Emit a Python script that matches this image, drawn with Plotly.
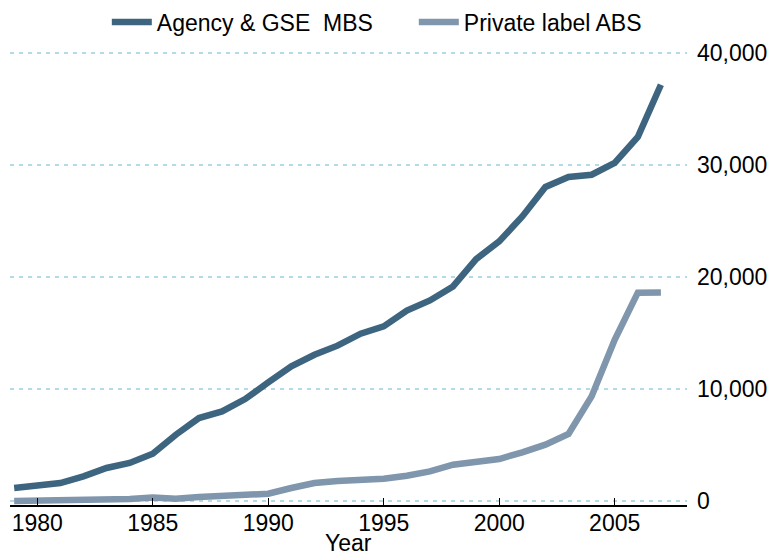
import plotly.graph_objects as go

years = list(range(1979, 2008))
agency_mbs = [1160, 1370, 1600, 2200, 2950, 3400, 4220, 5920, 7410, 8000,
              9100, 10590, 12020, 13060, 13870, 14940, 15590, 17000, 17910, 19160,
              21600, 23180, 25410, 28040, 28930, 29130, 30180, 32500, 37170]
private_abs = [0, 10, 20, 30, 50, 180, 320, 200, 360, 410,
               500, 650, 1160, 1600, 1790, 1900, 1990, 2260, 2640, 3240,
               3480, 3750, 4340, 5030, 5980, 9340, 14400, 18600, 18620]
y_ticks = [0, 10000, 20000, 30000, 40000]
x_ticks = [1980, 1985, 1990, 1995, 2000, 2005]

FONT = "Liberation Sans, Arial, Helvetica, sans-serif"

fig = go.Figure()
fig.add_trace(go.Scatter(x=years, y=agency_mbs, mode="lines", name="Agency & GSE  MBS",
                         line=dict(color="#3e6580", width=6.5)))
fig.add_trace(go.Scatter(x=years, y=private_abs, mode="lines", name="Private label ABS",
                         line=dict(color="#7f96ac", width=6.5)))

fig.update_layout(
    width=772, height=556,
    margin=dict(l=10, r=85, t=45, b=51, autoexpand=False),
    paper_bgcolor="white", plot_bgcolor="white",
    font=dict(family=FONT, size=23, color="black"),
    showlegend=True,
    legend=dict(orientation="h", x=0.143, xanchor="left", y=1.05, yanchor="middle",
                font=dict(size=23), itemwidth=40, tracegroupgap=0,
                entrywidth=252, entrywidthmode="pixels",
                bgcolor="rgba(0,0,0,0)"),
    xaxis=dict(range=[1978.82, 2008.13], tickvals=x_ticks, ticks="inside", ticklen=7,
               tickcolor="black", tickwidth=1, showline=True, linecolor="black",
               linewidth=1.5, showgrid=False, zeroline=False, automargin=False,
               ticklabelstandoff=-3),
    yaxis=dict(range=[-357, 40714], side="right", tickvals=y_ticks, tickformat=",d",
               ticks="", showline=False, zeroline=False, showgrid=True, automargin=False,
               gridcolor="#b3dbe7", griddash="4px,5px", gridwidth=1.5,
               ticklabelstandoff=9),
    annotations=[dict(text="Year", xref="paper", yref="paper", x=0.5, y=-0.0826,
                      xanchor="center", yanchor="middle", showarrow=False,
                      font=dict(size=23))],
)

fig.write_html(
    "out.html",
    config={"displayModeBar": False},
    post_script="document.body.style.margin='0';document.body.style.overflow='hidden';"
                "document.documentElement.style.overflow='hidden';",
)
